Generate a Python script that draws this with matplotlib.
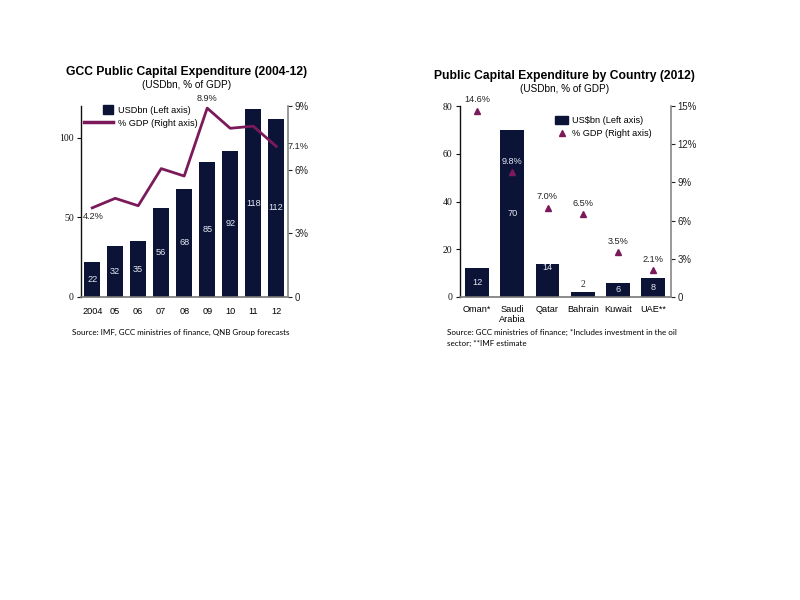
import matplotlib
matplotlib.use("Agg")
import matplotlib.pyplot as plt
from matplotlib.lines import Line2D
from matplotlib.patches import Patch, Rectangle
from matplotlib.legend_handler import HandlerPatch, HandlerLine2D

# ---- data ----
years = ["2004", "05", "06", "07", "08", "09", "10", "11", "12"]
capex_usdbn = [22, 32, 35, 56, 68, 85, 92, 118, 112]
capex_pct_gdp = [4.2, 4.65, 4.3, 6.05, 5.7, 8.9, 7.95, 8.05, 7.1]
pct_labels_left = {0: "4.2%", 5: "8.9%", 8: "7.1%"}
left_ticks_L = [0, 50, 100]
right_ticks_L = [0, 3, 6, 9]
right_ticklabels_L = ["0", "3%", "6%", "9%"]

countries = ["Oman*", "Saudi\nArabia", "Qatar", "Bahrain", "Kuwait", "UAE**"]
country_usdbn = [12, 70, 14, 2, 6, 8]
country_pct_gdp = [14.6, 9.8, 7.0, 6.5, 3.5, 2.1]
country_pct_labels = ["14.6%", "9.8%", "7.0%", "6.5%", "3.5%", "2.1%"]
left_ticks_R = [0, 20, 40, 60, 80]
right_ticks_R = [0, 3, 6, 9, 12, 15]
right_ticklabels_R = ["0", "3%", "6%", "9%", "12%", "15%"]

NAVY = "#0b1436"
PLUM = "#7b1a5b"
SANS = "Liberation Sans"
SERIF = "Liberation Serif"
NOTE = "Lato"
FS = 6.6          # general label size
LIGHT = "#e4e7f2"

plt.rcParams["font.family"] = [SANS, "DejaVu Sans"]

W, H = 800, 600
fig = plt.figure(figsize=(8, 6), dpi=100)
fig.patch.set_facecolor("white")


def px_axes(x0, y0, x1, y1):
    return fig.add_axes([x0 / W, 1 - y1 / H, (x1 - x0) / W, (y1 - y0) / H])


def style_axes(ax, ax2, xpad):
    for a in (ax, ax2):
        a.spines["top"].set_visible(False)
        a.set_facecolor("none")
    ax.spines["right"].set_visible(False)
    ax2.spines["left"].set_visible(False)
    ax2.spines["bottom"].set_visible(False)
    ax.spines["left"].set_color("#111111")
    ax.spines["left"].set_linewidth(1.0)
    ax.spines["bottom"].set_color("#777777")
    ax.spines["bottom"].set_linewidth(1.2)
    ax2.spines["right"].set_color("#888888")
    ax2.spines["right"].set_linewidth(1.2)
    ax.tick_params(axis="y", direction="out", length=3, width=0.8, pad=2,
                   colors="#111111")
    ax.tick_params(axis="x", length=0, pad=xpad)
    ax2.tick_params(axis="y", direction="out", length=3, width=0.8, pad=2,
                    colors="#222222")


def right_rect(legend, orig_handle, xdescent, ydescent, width, height, fontsize):
    w = height * 1.3
    return Rectangle((-xdescent + width - w, -ydescent), w, height)


class LeftMarker(HandlerLine2D):
    def get_xdata(self, legend, xdescent, ydescent, width, height, fontsize):
        xd, _ = super().get_xdata(legend, xdescent, ydescent, width, height, fontsize)
        return xd, [-xdescent + 0.15 * width]


# ================= Left chart =================
axL = px_axes(80.7, 106, 287.7, 297)
axL2 = axL.twinx()
style_axes(axL, axL2, 7)
xL = list(range(len(years)))
axL.bar(xL, capex_usdbn, width=0.68, color=NAVY, zorder=2)
axL.set_xlim(-0.5, len(years) - 0.5)
axL.set_ylim(0, 120)
axL.set_yticks(left_ticks_L)
axL.set_yticklabels([str(t) for t in left_ticks_L], family=SERIF, fontsize=7)
axL.set_xticks(xL)
axL.set_xticklabels(years, family=SANS, fontsize=FS)
for x, v in zip(xL, capex_usdbn):
    axL.text(x, v / 2, str(v), ha="center", va="center", color=LIGHT,
             fontsize=FS, family=SANS, zorder=3)

axL2.plot(xL, capex_pct_gdp, color=PLUM, lw=2.0, zorder=4)
axL2.set_ylim(0, 9)
axL2.set_yticks(right_ticks_L)
axL2.set_yticklabels(right_ticklabels_L, family=SANS, fontsize=6.9)
for i, s in pct_labels_left.items():
    if i == 0:
        off, ha = (1, -6.5), "center"
    elif i == len(xL) - 1:
        off, ha = (8.5, 0), "left"
    else:
        off, ha = (0, 6.7), "center"
    axL2.annotate(s, (xL[i], capex_pct_gdp[i]), xytext=off,
                  textcoords="offset points", ha=ha, va="center",
                  fontsize=FS, family=SANS, color="#222222",
                  annotation_clip=False)

handlesL = [Patch(facecolor=NAVY, edgecolor=NAVY),
            Line2D([0], [0], color=PLUM, lw=2.5)]
axL2.legend(handlesL, ["USDbn (Left axis)", "% GDP (Right axis)"],
            loc="upper left", bbox_to_anchor=(0.016, 1.003),
            frameon=False, prop={"family": SANS, "size": FS},
            handlelength=3.2, handleheight=1.0, labelspacing=0.45,
            handletextpad=0.55, borderaxespad=0, borderpad=0,
            handler_map={Patch: HandlerPatch(patch_func=right_rect)})

fig.text(186.5 / W, 1 - 72.5 / H, "GCC Public Capital Expenditure (2004-12)",
         ha="center", va="center", fontsize=8.7, fontweight="bold", family=SANS)
fig.text(186.5 / W, 1 - 85 / H, "(USDbn, % of GDP)",
         ha="center", va="center", fontsize=7.2, family=SANS)
fig.text(72 / W, 1 - 332 / H,
         "Source: IMF, GCC ministries of finance, QNB Group forecasts",
         ha="left", va="center", fontsize=5.75, family=NOTE)

# ================= Right chart =================
axR = px_axes(459.5, 106, 670.7, 297)
axR2 = axR.twinx()
style_axes(axR, axR2, 6)
xR = list(range(len(countries)))
axR.bar(xR, country_usdbn, width=0.68, color=NAVY, zorder=2)
axR.set_xlim(-0.5, len(countries) - 0.5)
axR.set_ylim(0, 80)
axR.set_yticks(left_ticks_R)
axR.set_yticklabels([str(t) for t in left_ticks_R], family=SERIF, fontsize=7)
axR.set_xticks(xR)
axR.set_xticklabels(countries, linespacing=1.05, family=SANS, fontsize=FS)
for x, v in zip(xR, country_usdbn):
    if v < 4:
        axR.text(x, v + 3.4, str(v), ha="center", va="center",
                 color="#333333", fontsize=7, family=SERIF, zorder=3)
    elif x == 2:
        axR.text(x, v - 1.6, str(v), ha="center", va="center",
                 color=LIGHT, fontsize=FS, family=SANS, zorder=3)
    else:
        axR.text(x, v / 2, str(v), ha="center", va="center",
                 color=LIGHT, fontsize=FS, family=SANS, zorder=3)

axR2.plot(xR, country_pct_gdp, linestyle="none", marker="^", markersize=4.5,
          color=PLUM, zorder=4)
axR2.set_ylim(0, 15)
axR2.set_yticks(right_ticks_R)
axR2.set_yticklabels(right_ticklabels_R, family=SANS, fontsize=6.9)
for x, v, s in zip(xR, country_pct_gdp, country_pct_labels):
    col = LIGHT if x == 1 else "#222222"
    axR2.annotate(s, (x, v), xytext=(0, 8), textcoords="offset points",
                  ha="center", va="center", fontsize=FS, family=SANS,
                  color=col, annotation_clip=False, zorder=5)

handlesR = [Patch(facecolor=NAVY, edgecolor=NAVY),
            Line2D([0], [0], linestyle="none", marker="^", markersize=4,
                   color=PLUM)]
axR2.legend(handlesR, ["US$bn (Left axis)", "% GDP (Right axis)"],
            loc="upper left", bbox_to_anchor=(0.452, 0.950),
            frameon=False, prop={"family": SANS, "size": FS},
            handlelength=1.45, handleheight=1.0, labelspacing=0.45,
            handletextpad=0.45, borderaxespad=0, borderpad=0,
            handler_map={Line2D: LeftMarker()})

fig.text(564.5 / W, 1 - 76.5 / H, "Public Capital Expenditure by Country (2012)",
         ha="center", va="center", fontsize=8.7, fontweight="bold", family=SANS)
fig.text(564.5 / W, 1 - 89.5 / H, "(USDbn, % of GDP)",
         ha="center", va="center", fontsize=7.2, family=SANS)
fig.text(446.7 / W, 1 - 332.5 / H,
         "Source: GCC ministries of finance; *Includes investment in the oil",
         ha="left", va="center", fontsize=5.8, family=NOTE)
fig.text(446.7 / W, 1 - 343.5 / H, "sector; **IMF estimate",
         ha="left", va="center", fontsize=5.8, family=NOTE)

fig.savefig("out.png", dpi=100, facecolor="white")
